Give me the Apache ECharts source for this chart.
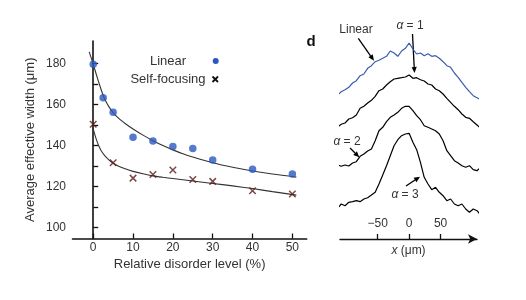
<!DOCTYPE html>
<html><head><meta charset="utf-8">
<script src="https://cdn.jsdelivr.net/npm/echarts@6/dist/echarts.min.js"></script>
<style>html,body{margin:0;padding:0;background:#fff}#c{width:526px;height:300px}</style>
</head><body><div id="c"></div>
<script>
// ---- Panel c: average effective width vs disorder ----
const linearX = [0, 2.5, 5, 10, 15, 20, 25, 30, 40, 50];
const linearY = [179.7, 163.3, 156.2, 144, 142.2, 139.5, 138.5, 132.8, 128.3, 126];
const selfX = [0, 5, 10, 15, 20, 25, 30, 40, 50];
const selfY = [150.3, 131.5, 124, 125.8, 128, 123.3, 122.4, 117.8, 116.2];
// fitted curves
const linFitX = [-1, 0, 1, 2, 2.5, 3, 4, 5, 6, 7, 8, 10, 12.5, 15, 17.5, 20, 22.5, 25, 30, 35, 40, 45, 51];
const linFitY = [185.7, 179.7, 173.2, 167.2, 164.5, 162.2, 158.7, 156, 153.9, 152.2, 150.7, 148, 145, 142.3, 139.9, 137.8, 135.9, 134.3, 131.5, 129.3, 127.5, 126, 124.5];
const selfFitX = [-0.2, 0.5, 1, 1.5, 2, 3, 4, 5, 6, 7.5, 10, 12.5, 15, 17.5, 20, 25, 30, 35, 40, 45, 51];
const selfFitY = [149.5, 144.6, 141.7, 139.3, 137.4, 134.7, 132.8, 131.3, 130.2, 128.9, 127.3, 126.1, 125.1, 124.4, 123.8, 122.6, 121.4, 120.2, 118.9, 117.4, 115.7];
const xTicks = [0, 10, 20, 30, 40, 50];
const yLabels = [100, 120, 140, 160, 180];
const yTicks = [100, 110, 120, 130, 140, 150, 160, 170, 180];

// ---- Panel d: intensity profiles (arbitrary offsets) ----
const profX = [-120,-114,-108,-102,-96,-90,-84,-78,-72,-66,-60,-54,-48,-42,-36,-30,-24,-18,-12,-6,0,6,12,18,24,30,36,42,48,54,60,66,72,78,84,90,96,102,108,114,120];
const profLinear = [142.7,144,147.3,149.3,151.7,156,158.3,163.3,165,170.7,173.3,177.3,178.7,180.7,182.7,188,186,182.7,188,190.7,196,190,185,186,183.3,185.3,182.7,183.3,180.7,177.3,173.3,171.7,166,161.7,156.7,151.7,147.3,143.3,141.3,139,136];
const profA1 = [109,111.7,114.7,116,120,121.3,124,130.7,132.7,136,138.7,142.7,148.3,150,154,157.3,160,160.7,161.3,162,164,160.7,161.3,159.3,158,155,154,150,148.3,145,140.7,136.7,132.7,129.3,125,121.7,120.7,117.3,114,110.7,106.7];
const profA2 = [73.3,74.3,72.7,74,73,76,77.3,82.7,85,88,90,98.3,108.3,111.7,117.3,121.7,124,126.7,130.7,132.7,132.7,128.3,123.3,119.3,113.3,111.7,110,108.3,105,98.3,88.3,83.3,78.3,76,73.3,71.7,73.3,69.3,68.3,71.7,66.7];
const profA3 = [33.3,30.7,35,33.3,36.7,37.3,38.3,37.3,40,41.3,44,46.7,55,64,73.3,83.3,93.3,99.3,103.3,105,105.7,96.7,89.3,76.7,61.7,55,49.3,51.7,46.7,43.3,38.3,40,35,33.3,35,30,26.7,30,28.3,24,29.3];
const profTicks = [-50, 0, 50];

const zip = (a, b) => a.map((v, i) => [v, b[i]]);
const FONT = 'Liberation Sans, Arial, sans-serif';
const TXT = '#333';
const BLUE = '#2a57c0';
const CROSS = '#5a1b1b';

const chart = echarts.init(document.getElementById('c'), null, {renderer: 'canvas'});

function arrow(x1, y1, x2, y2) {
  const dx = x2 - x1, dy = y2 - y1, L = Math.hypot(dx, dy);
  const ux = dx / L, uy = dy / L, hl = 6, hw = 2.6;
  const bx = x2 - ux * hl, by = y2 - uy * hl;
  return [
    {type: 'line', shape: {x1, y1, x2: bx, y2: by}, style: {stroke: '#000', lineWidth: 1.3}},
    {type: 'polygon', shape: {points: [[x2, y2], [bx - uy * hw, by + ux * hw], [bx + uy * hw, by - ux * hw]]}, style: {fill: '#000'}}
  ];
}

const option = {
  animation: false,
  backgroundColor: '#fff',
  textStyle: {fontFamily: FONT},
  grid: [
    {left: 72.5, top: 41, right: 219.3, bottom: 61.5},
    {left: 340, right: 49, top: 29, height: 210}
  ],
  xAxis: [
    {
      gridIndex: 0, type: 'value', min: -5.2, max: 53.6,
      name: 'Relative disorder level (%)', nameLocation: 'middle', nameGap: 16,
      nameTextStyle: {fontSize: 13, color: TXT, fontFamily: FONT},
      axisLine: {show: true, lineStyle: {color: '#111', width: 1.6}},
      axisTick: {show: true, inside: true, length: 5, lineStyle: {color: '#111', width: 1.3}, customValues: xTicks},
      axisLabel: {fontSize: 12, color: TXT, margin: 3, fontFamily: FONT, customValues: xTicks},
      splitLine: {show: false}
    },
    {
      gridIndex: 1, type: 'value', min: -110, max: 108,
      name: '{i|x} (μm)', nameLocation: 'middle', nameGap: 5,
      nameTextStyle: {fontSize: 12, color: TXT, fontFamily: FONT, rich: {i: {fontStyle: 'italic', fontSize: 12, color: TXT, fontFamily: FONT}}},
      axisLine: {show: true, symbol: ['none', 'arrow'], symbolSize: [7, 9], lineStyle: {color: '#111', width: 1.4}},
      axisTick: {show: true, inside: true, length: 5, lineStyle: {color: '#111', width: 1.3}, customValues: profTicks},
      axisLabel: {inside: true, fontSize: 12, color: TXT, margin: 9, fontFamily: FONT, customValues: profTicks,
        formatter: v => (v < 0 ? '\u2212' + Math.abs(v) : String(v))},
      splitLine: {show: false}
    }
  ],
  yAxis: [
    {
      gridIndex: 0, type: 'value', min: 94.5, max: 191,
      name: 'Average effective width (μm)', nameLocation: 'middle', nameGap: 36,
      nameTextStyle: {fontSize: 13, color: TXT, fontFamily: FONT},
      axisLine: {show: true, lineStyle: {color: '#111', width: 1.6}},
      axisTick: {show: true, inside: true, length: 5, lineStyle: {color: '#111', width: 1.3}, customValues: yTicks},
      axisLabel: {fontSize: 12, color: TXT, margin: 6.5, fontFamily: FONT, customValues: yLabels},
      splitLine: {show: false}
    },
    {gridIndex: 1, type: 'value', min: 0, max: 210, show: false}
  ],
  series: [
    {type: 'line', xAxisIndex: 0, yAxisIndex: 0, data: zip(linFitX, linFitY), smooth: 0.3, showSymbol: false,
      lineStyle: {color: '#333', width: 1.1}, z: 2},
    {type: 'line', xAxisIndex: 0, yAxisIndex: 0, data: zip(selfFitX, selfFitY), smooth: 0.3, showSymbol: false,
      lineStyle: {color: '#333', width: 1.1}, z: 2},
    {type: 'scatter', xAxisIndex: 0, yAxisIndex: 0, data: zip(linearX, linearY), symbol: 'circle', symbolSize: 7.5,
      itemStyle: {color: BLUE}, z: 3},
    {type: 'scatter', xAxisIndex: 0, yAxisIndex: 0, data: zip(selfX, selfY), symbol: 'path://M0,0L10,10M10,0L0,10', symbolSize: 6.5,
      itemStyle: {color: 'none', borderColor: CROSS, borderWidth: 1.5}, z: 3},
    {type: 'line', xAxisIndex: 1, yAxisIndex: 1, data: zip(profX, profLinear), clip: false, showSymbol: false,
      lineStyle: {color: '#3a5bb0', width: 1.2}},
    {type: 'line', xAxisIndex: 1, yAxisIndex: 1, data: zip(profX, profA1), clip: false, showSymbol: false,
      lineStyle: {color: '#000', width: 1.2}},
    {type: 'line', xAxisIndex: 1, yAxisIndex: 1, data: zip(profX, profA2), clip: false, showSymbol: false,
      lineStyle: {color: '#000', width: 1.2}},
    {type: 'line', xAxisIndex: 1, yAxisIndex: 1, data: zip(profX, profA3), clip: false, showSymbol: false,
      lineStyle: {color: '#000', width: 1.2}}
  ],
  graphic: [
    // legend of panel c
    {type: 'text', x: 168, y: 61, style: {text: 'Linear', fontSize: 13, fill: TXT, font: '13px ' + FONT, align: 'center', verticalAlign: 'middle'}},
    {type: 'text', x: 168, y: 79.5, style: {text: 'Self-focusing', fontSize: 13, fill: TXT, font: '13px ' + FONT, align: 'center', verticalAlign: 'middle'}},
    {type: 'circle', shape: {cx: 215.7, cy: 61, r: 3}, style: {fill: BLUE}},
    {type: 'polyline', shape: {points: [[212.5, 76.5], [218, 82]]}, style: {stroke: '#111', lineWidth: 1.8}},
    {type: 'polyline', shape: {points: [[218, 76.5], [212.5, 82]]}, style: {stroke: '#111', lineWidth: 1.8}},
    // panel d label and annotations
    {type: 'text', x: 311, y: 42, style: {text: 'd', font: 'bold 15px ' + FONT, fill: '#111', align: 'center', verticalAlign: 'middle'}},
    {type: 'text', x: 356, y: 30, style: {text: 'Linear', font: '12px ' + FONT, fill: TXT, align: 'center', verticalAlign: 'middle'}},
    {type: 'text', x: 410, y: 26, style: {text: '{i|α} = 1', font: '12px ' + FONT, fill: TXT, align: 'center', verticalAlign: 'middle', rich: {i: {fontStyle: 'italic', fontSize: 12, fontFamily: FONT, fill: TXT}}}},
    {type: 'text', x: 347, y: 141.7, style: {text: '{i|α} = 2', font: '12px ' + FONT, fill: TXT, align: 'center', verticalAlign: 'middle', rich: {i: {fontStyle: 'italic', fontSize: 12, fontFamily: FONT, fill: TXT}}}},
    {type: 'text', x: 405, y: 195, style: {text: '{i|α} = 3', font: '12px ' + FONT, fill: TXT, align: 'center', verticalAlign: 'middle', rich: {i: {fontStyle: 'italic', fontSize: 12, fontFamily: FONT, fill: TXT}}}},
    ...arrow(358.3, 38.3, 374, 60.7),
    ...arrow(412.5, 34, 414.5, 73),
    ...arrow(350, 148, 359.3, 157.3),
    ...arrow(406, 186, 420, 176.7)
  ]
};
chart.setOption(option);
</script></body></html>
